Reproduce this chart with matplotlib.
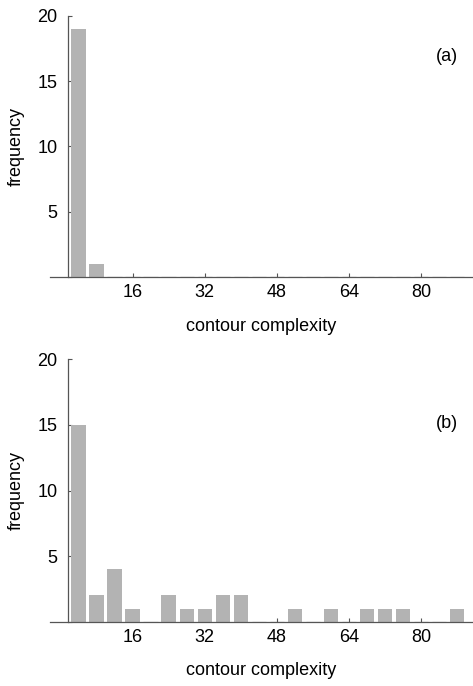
import matplotlib
matplotlib.use("Agg")
import matplotlib.pyplot as plt
import numpy as np

plt.rcParams['font.family'] = ['Liberation Sans', 'DejaVu Sans']

bin_centers = [4, 8, 12, 16, 20, 24, 28, 32, 36, 40, 44, 48, 52, 56, 60, 64, 68, 72, 76, 80, 84, 88]
counts_a = [19, 1, 0, 0, 0, 0, 0, 0, 0, 0, 0, 0, 0, 0, 0, 0, 0, 0, 0, 0, 0, 0]
counts_b = [15, 2, 4, 1, 0, 2, 1, 1, 2, 2, 0, 0, 1, 0, 1, 0, 1, 1, 1, 0, 0, 1]
panel_labels = ['(a)', '(b)']
xticks = [16, 32, 48, 64, 80]
yticks = [5, 10, 15, 20]
xlabel = 'contour complexity'
ylabel = 'frequency'

fig = plt.figure(figsize=(4.73, 6.86), dpi=100)
axes_rects = [[0.1057, 0.5958, 0.8915, 0.3813], [0.1057, 0.0937, 0.8915, 0.3825]]
label_y = [16.9, 15.1]
bar_color = '#b3b3b3'
spine_color = '#555555'
fs = 13

for rect, counts, plabel, ly in zip(axes_rects, [counts_a, counts_b], panel_labels, label_y):
    ax = fig.add_axes(rect)
    x = np.array(bin_centers)
    h = np.array(counts)
    ax.bar(x, h, width=3.2, color=bar_color, edgecolor='none', zorder=2)
    zero = h == 0
    ax.hlines(np.zeros(zero.sum()), x[zero] - 1.6, x[zero] + 1.6, color='#444444', lw=0.8, zorder=3)
    ax.set_xlim(-2.33, 91.2)
    ax.set_ylim(0, 20)
    for s in ['top', 'right']:
        ax.spines[s].set_visible(False)
    ax.spines['left'].set_position(('data', 1.6))
    ax.spines['left'].set_color(spine_color)
    ax.spines['bottom'].set_color(spine_color)
    ax.spines['left'].set_linewidth(0.9)
    ax.spines['bottom'].set_linewidth(0.9)
    ax.set_xticks(xticks)
    ax.set_yticks(yticks + [0])
    ax.set_yticklabels([str(t) for t in yticks] + [''])
    ax.tick_params(direction='in', length=3, width=0.8, color=spine_color, labelsize=fs)
    ax.tick_params(axis='x', pad=5)
    ax.tick_params(axis='y', pad=7.5)
    ax.set_xlabel(xlabel, fontsize=fs, labelpad=12)
    ax.set_ylabel(ylabel, fontsize=fs)
    ax.yaxis.set_label_coords(-0.060, 0.5)
    ax.text(85.7, ly, plabel, fontsize=fs, ha='center', va='center')

fig.savefig('out.png', dpi=100)
